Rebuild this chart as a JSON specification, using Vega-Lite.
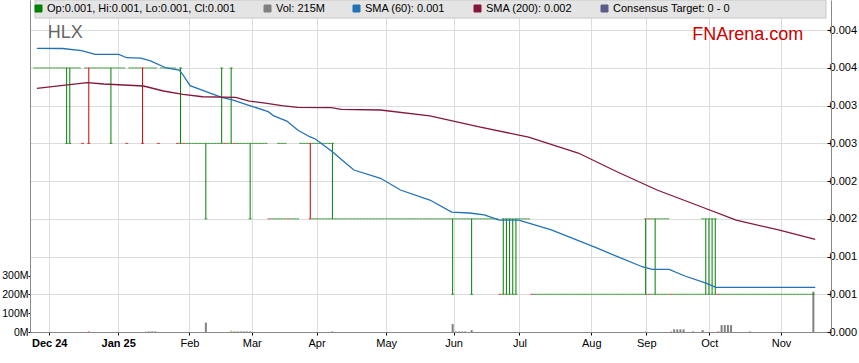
{
"$schema": "https://vega.github.io/schema/vega-lite/v6.json",
"width": 801, "height": 332,
"autosize": {"type": "none"},
"padding": {"left": 30, "top": 0, "right": 28, "bottom": 31},
"config": {
  "font": "Liberation Sans",
  "view": {"stroke": null},
  "axis": {"labelFont": "Liberation Sans", "labelFontSize": 11, "labelColor": "#000", "domainColor": "#888", "tickColor": "#000", "gridColor": "#dcdcdc", "gridWidth": 1, "title": null}
},
"datasets": {
"bars": [
{"i":0,"o":0.004,"h":0.004,"l":0.004,"c":0.004,"v":0},{"i":1,"o":0.004,"h":0.004,"l":0.004,"c":0.004,"v":0},{"i":2,"o":0.004,"h":0.004,"l":0.004,"c":0.004,"v":0},{"i":3,"o":0.004,"h":0.004,"l":0.004,"c":0.004,"v":0},{"i":4,"o":0.004,"h":0.004,"l":0.004,"c":0.004,"v":0},{"i":5,"o":0.004,"h":0.004,"l":0.004,"c":0.004,"v":0},{"i":6,"o":0.004,"h":0.004,"l":0.004,"c":0.004,"v":0},{"i":7,"o":0.004,"h":0.004,"l":0.004,"c":0.004,"v":0},{"i":8,"o":0.004,"h":0.004,"l":0.004,"c":0.004,"v":0},{"i":9,"o":0.004,"h":0.004,"l":0.004,"c":0.004,"v":0},
{"i":10,"o":0.003,"h":0.004,"l":0.003,"c":0.004,"v":0},{"i":11,"o":0.003,"h":0.004,"l":0.003,"c":0.004,"v":0},{"i":12,"o":0.004,"h":0.004,"l":0.004,"c":0.004,"v":0},{"i":13,"o":0.004,"h":0.004,"l":0.004,"c":0.004,"v":0},{"i":14,"o":0.004,"h":0.004,"l":0.004,"c":0.004,"v":0},{"i":15,"o":0.003,"h":0.003,"l":0.003,"c":0.003,"v":0},{"i":16,"o":0.004,"h":0.004,"l":0.004,"c":0.004,"v":0},{"i":17,"o":0.004,"h":0.004,"l":0.003,"c":0.003,"v":4},{"i":18,"o":0.004,"h":0.004,"l":0.004,"c":0.004,"v":0},{"i":19,"o":0.004,"h":0.004,"l":0.004,"c":0.004,"v":0},
{"i":20,"o":0.004,"h":0.004,"l":0.004,"c":0.004,"v":0},{"i":21,"o":0.004,"h":0.004,"l":0.004,"c":0.004,"v":0},{"i":22,"o":0.004,"h":0.004,"l":0.004,"c":0.004,"v":0},{"i":23,"o":0.004,"h":0.004,"l":0.004,"c":0.004,"v":0},{"i":24,"o":0.003,"h":0.004,"l":0.003,"c":0.004,"v":0},{"i":25,"o":0.004,"h":0.004,"l":0.004,"c":0.004,"v":0},{"i":26,"o":0.004,"h":0.004,"l":0.004,"c":0.004,"v":0},{"i":27,"o":0.004,"h":0.004,"l":0.004,"c":0.004,"v":0},{"i":28,"o":0.004,"h":0.004,"l":0.004,"c":0.004,"v":0},{"i":29,"o":0.003,"h":0.003,"l":0.003,"c":0.003,"v":0},
{"i":30,"o":0.004,"h":0.004,"l":0.004,"c":0.004,"v":0},{"i":31,"o":0.004,"h":0.004,"l":0.004,"c":0.004,"v":0},{"i":32,"o":0.004,"h":0.004,"l":0.004,"c":0.004,"v":0},{"i":33,"o":0.004,"h":0.004,"l":0.004,"c":0.004,"v":0},{"i":34,"o":0.004,"h":0.004,"l":0.003,"c":0.003,"v":0},{"i":35,"o":0.004,"h":0.004,"l":0.004,"c":0.004,"v":4},{"i":36,"o":0.004,"h":0.004,"l":0.004,"c":0.004,"v":3},{"i":37,"o":0.004,"h":0.004,"l":0.004,"c":0.004,"v":3},{"i":38,"o":0.004,"h":0.004,"l":0.004,"c":0.004,"v":3},{"i":39,"o":0.003,"h":0.003,"l":0.003,"c":0.003,"v":0},
{"i":40,"o":0.004,"h":0.004,"l":0.004,"c":0.004,"v":0},{"i":41,"o":0.004,"h":0.004,"l":0.004,"c":0.004,"v":0},{"i":42,"o":0.004,"h":0.004,"l":0.004,"c":0.004,"v":0},{"i":43,"o":0.004,"h":0.004,"l":0.004,"c":0.004,"v":0},{"i":44,"o":0.004,"h":0.004,"l":0.004,"c":0.004,"v":0},{"i":45,"o":0.003,"h":0.003,"l":0.003,"c":0.003,"v":0},{"i":46,"o":0.003,"h":0.004,"l":0.003,"c":0.004,"v":0},{"i":47,"o":0.003,"h":0.003,"l":0.003,"c":0.003,"v":0},{"i":48,"o":0.003,"h":0.003,"l":0.003,"c":0.003,"v":0},{"i":49,"o":0.003,"h":0.003,"l":0.003,"c":0.003,"v":0},
{"i":50,"o":0.003,"h":0.003,"l":0.003,"c":0.003,"v":0},{"i":51,"o":0.003,"h":0.003,"l":0.003,"c":0.003,"v":0},{"i":52,"o":0.003,"h":0.003,"l":0.003,"c":0.003,"v":0},{"i":53,"o":0.003,"h":0.003,"l":0.003,"c":0.003,"v":0},{"i":54,"o":0.002,"h":0.003,"l":0.002,"c":0.003,"v":50},{"i":55,"o":0.003,"h":0.003,"l":0.003,"c":0.003,"v":0},{"i":56,"o":0.003,"h":0.003,"l":0.003,"c":0.003,"v":0},{"i":57,"o":0.003,"h":0.003,"l":0.003,"c":0.003,"v":0},{"i":58,"o":0.003,"h":0.003,"l":0.003,"c":0.003,"v":0},{"i":59,"o":0.003,"h":0.004,"l":0.003,"c":0.004,"v":0},
{"i":60,"o":0.003,"h":0.003,"l":0.003,"c":0.003,"v":0},{"i":61,"o":0.003,"h":0.003,"l":0.003,"c":0.003,"v":0},{"i":62,"o":0.003,"h":0.004,"l":0.003,"c":0.004,"v":8},{"i":63,"o":0.003,"h":0.003,"l":0.003,"c":0.003,"v":4},{"i":64,"o":0.003,"h":0.003,"l":0.003,"c":0.003,"v":3},{"i":65,"o":0.003,"h":0.003,"l":0.003,"c":0.003,"v":3},{"i":66,"o":0.003,"h":0.003,"l":0.003,"c":0.003,"v":3},{"i":67,"o":0.003,"h":0.003,"l":0.003,"c":0.003,"v":3},{"i":68,"o":0.002,"h":0.003,"l":0.002,"c":0.003,"v":3},{"i":69,"o":0.003,"h":0.003,"l":0.003,"c":0.003,"v":0},
{"i":70,"o":0.003,"h":0.003,"l":0.003,"c":0.003,"v":0},{"i":71,"o":0.003,"h":0.003,"l":0.003,"c":0.003,"v":0},{"i":72,"o":0.003,"h":0.003,"l":0.003,"c":0.003,"v":0},{"i":73,"o":0.003,"h":0.003,"l":0.003,"c":0.003,"v":0},{"i":74,"o":0.002,"h":0.002,"l":0.002,"c":0.002,"v":0},{"i":75,"o":0.002,"h":0.002,"l":0.002,"c":0.002,"v":0},{"i":76,"o":0.002,"h":0.002,"l":0.002,"c":0.002,"v":0},{"i":77,"o":0.002,"h":0.003,"l":0.002,"c":0.002,"v":0},{"i":78,"o":0.002,"h":0.003,"l":0.002,"c":0.002,"v":0},{"i":79,"o":0.003,"h":0.003,"l":0.002,"c":0.003,"v":0},
{"i":80,"o":0.002,"h":0.002,"l":0.002,"c":0.002,"v":0},{"i":81,"o":0.002,"h":0.002,"l":0.002,"c":0.002,"v":0},{"i":82,"o":0.002,"h":0.002,"l":0.002,"c":0.002,"v":0},{"i":83,"o":0.002,"h":0.002,"l":0.002,"c":0.002,"v":0},{"i":84,"o":0.003,"h":0.003,"l":0.003,"c":0.003,"v":0},{"i":85,"o":0.003,"h":0.003,"l":0.003,"c":0.003,"v":0},{"i":86,"o":0.003,"h":0.003,"l":0.003,"c":0.003,"v":0},{"i":87,"o":0.003,"h":0.003,"l":0.002,"c":0.002,"v":0},{"i":88,"o":0.002,"h":0.003,"l":0.002,"c":0.002,"v":0},{"i":89,"o":0.002,"h":0.003,"l":0.002,"c":0.002,"v":0},
{"i":90,"o":0.002,"h":0.003,"l":0.002,"c":0.002,"v":0},{"i":91,"o":0.002,"h":0.003,"l":0.002,"c":0.002,"v":0},{"i":92,"o":0.002,"h":0.003,"l":0.002,"c":0.002,"v":0},{"i":93,"o":0.002,"h":0.003,"l":0.002,"c":0.002,"v":0},{"i":94,"o":0.003,"h":0.003,"l":0.002,"c":0.002,"v":3},{"i":95,"o":0.002,"h":0.002,"l":0.002,"c":0.002,"v":0},{"i":96,"o":0.002,"h":0.002,"l":0.002,"c":0.002,"v":0},{"i":97,"o":0.002,"h":0.002,"l":0.002,"c":0.002,"v":0},{"i":98,"o":0.002,"h":0.002,"l":0.002,"c":0.002,"v":0},{"i":99,"o":0.002,"h":0.002,"l":0.002,"c":0.002,"v":0},
{"i":100,"o":0.002,"h":0.002,"l":0.002,"c":0.002,"v":0},{"i":101,"o":0.002,"h":0.002,"l":0.002,"c":0.002,"v":0},{"i":102,"o":0.002,"h":0.002,"l":0.002,"c":0.002,"v":0},{"i":103,"o":0.002,"h":0.002,"l":0.002,"c":0.002,"v":0},{"i":104,"o":0.002,"h":0.002,"l":0.002,"c":0.002,"v":0},{"i":105,"o":0.002,"h":0.002,"l":0.002,"c":0.002,"v":0},{"i":106,"o":0.002,"h":0.002,"l":0.002,"c":0.002,"v":0},{"i":107,"o":0.002,"h":0.002,"l":0.002,"c":0.002,"v":0},{"i":108,"o":0.002,"h":0.002,"l":0.002,"c":0.002,"v":0},{"i":109,"o":0.002,"h":0.002,"l":0.002,"c":0.002,"v":0},
{"i":110,"o":0.002,"h":0.002,"l":0.002,"c":0.002,"v":0},{"i":111,"o":0.002,"h":0.002,"l":0.002,"c":0.002,"v":0},{"i":112,"o":0.002,"h":0.002,"l":0.002,"c":0.002,"v":0},{"i":113,"o":0.002,"h":0.002,"l":0.002,"c":0.002,"v":0},{"i":114,"o":0.002,"h":0.002,"l":0.002,"c":0.002,"v":0},{"i":115,"o":0.002,"h":0.002,"l":0.002,"c":0.002,"v":0},{"i":116,"o":0.002,"h":0.002,"l":0.002,"c":0.002,"v":0},{"i":117,"o":0.002,"h":0.002,"l":0.002,"c":0.002,"v":0},{"i":118,"o":0.002,"h":0.002,"l":0.002,"c":0.002,"v":0},{"i":119,"o":0.002,"h":0.002,"l":0.002,"c":0.002,"v":0},
{"i":120,"o":0.002,"h":0.002,"l":0.002,"c":0.002,"v":0},{"i":121,"o":0.002,"h":0.002,"l":0.002,"c":0.002,"v":0},{"i":122,"o":0.002,"h":0.002,"l":0.002,"c":0.002,"v":0},{"i":123,"o":0.002,"h":0.002,"l":0.002,"c":0.002,"v":0},{"i":124,"o":0.002,"h":0.002,"l":0.002,"c":0.002,"v":0},{"i":125,"o":0.002,"h":0.002,"l":0.002,"c":0.002,"v":0},{"i":126,"o":0.002,"h":0.002,"l":0.002,"c":0.002,"v":0},{"i":127,"o":0.002,"h":0.002,"l":0.002,"c":0.002,"v":0},{"i":128,"o":0.002,"h":0.002,"l":0.002,"c":0.002,"v":0},{"i":129,"o":0.002,"h":0.002,"l":0.002,"c":0.002,"v":0},
{"i":130,"o":0.002,"h":0.002,"l":0.002,"c":0.002,"v":0},{"i":131,"o":0.002,"h":0.002,"l":0.002,"c":0.002,"v":0},{"i":132,"o":0.001,"h":0.002,"l":0.001,"c":0.002,"v":43},{"i":133,"o":0.002,"h":0.002,"l":0.002,"c":0.002,"v":3},{"i":134,"o":0.002,"h":0.002,"l":0.002,"c":0.002,"v":3},{"i":135,"o":0.002,"h":0.002,"l":0.002,"c":0.002,"v":3},{"i":136,"o":0.002,"h":0.002,"l":0.002,"c":0.002,"v":3},{"i":137,"o":0.002,"h":0.002,"l":0.002,"c":0.002,"v":0},{"i":138,"o":0.001,"h":0.002,"l":0.001,"c":0.002,"v":10},{"i":139,"o":0.002,"h":0.002,"l":0.002,"c":0.002,"v":0},
{"i":140,"o":0.002,"h":0.002,"l":0.002,"c":0.002,"v":0},{"i":141,"o":0.002,"h":0.002,"l":0.002,"c":0.002,"v":0},{"i":142,"o":0.002,"h":0.002,"l":0.002,"c":0.002,"v":0},{"i":143,"o":0.002,"h":0.002,"l":0.002,"c":0.002,"v":0},{"i":144,"o":0.002,"h":0.002,"l":0.002,"c":0.002,"v":0},{"i":145,"o":0.002,"h":0.002,"l":0.002,"c":0.002,"v":0},{"i":146,"o":0.002,"h":0.002,"l":0.002,"c":0.002,"v":0},{"i":147,"o":0.001,"h":0.001,"l":0.001,"c":0.001,"v":0},{"i":148,"o":0.001,"h":0.002,"l":0.001,"c":0.002,"v":0},{"i":149,"o":0.001,"h":0.002,"l":0.001,"c":0.002,"v":0},
{"i":150,"o":0.001,"h":0.002,"l":0.001,"c":0.002,"v":0},{"i":151,"o":0.001,"h":0.002,"l":0.001,"c":0.002,"v":0},{"i":152,"o":0.001,"h":0.002,"l":0.001,"c":0.002,"v":0},{"i":153,"o":0.002,"h":0.002,"l":0.002,"c":0.002,"v":0},{"i":154,"o":0.002,"h":0.002,"l":0.002,"c":0.002,"v":0},{"i":155,"o":0.002,"h":0.002,"l":0.002,"c":0.002,"v":0},{"i":156,"o":0.002,"h":0.002,"l":0.002,"c":0.002,"v":0},{"i":157,"o":0.001,"h":0.001,"l":0.001,"c":0.001,"v":0},{"i":158,"o":0.001,"h":0.001,"l":0.001,"c":0.001,"v":0},{"i":159,"o":0.001,"h":0.001,"l":0.001,"c":0.001,"v":0},
{"i":160,"o":0.001,"h":0.001,"l":0.001,"c":0.001,"v":0},{"i":161,"o":0.001,"h":0.001,"l":0.001,"c":0.001,"v":0},{"i":162,"o":0.001,"h":0.001,"l":0.001,"c":0.001,"v":0},{"i":163,"o":0.001,"h":0.001,"l":0.001,"c":0.001,"v":0},{"i":164,"o":0.001,"h":0.001,"l":0.001,"c":0.001,"v":0},{"i":165,"o":0.001,"h":0.001,"l":0.001,"c":0.001,"v":0},{"i":166,"o":0.001,"h":0.001,"l":0.001,"c":0.001,"v":0},{"i":167,"o":0.001,"h":0.001,"l":0.001,"c":0.001,"v":0},{"i":168,"o":0.001,"h":0.001,"l":0.001,"c":0.001,"v":0},{"i":169,"o":0.001,"h":0.001,"l":0.001,"c":0.001,"v":0},
{"i":170,"o":0.001,"h":0.001,"l":0.001,"c":0.001,"v":0},{"i":171,"o":0.001,"h":0.001,"l":0.001,"c":0.001,"v":0},{"i":172,"o":0.001,"h":0.001,"l":0.001,"c":0.001,"v":0},{"i":173,"o":0.001,"h":0.001,"l":0.001,"c":0.001,"v":0},{"i":174,"o":0.001,"h":0.001,"l":0.001,"c":0.001,"v":0},{"i":175,"o":0.001,"h":0.001,"l":0.001,"c":0.001,"v":0},{"i":176,"o":0.001,"h":0.001,"l":0.001,"c":0.001,"v":0},{"i":177,"o":0.001,"h":0.001,"l":0.001,"c":0.001,"v":0},{"i":178,"o":0.001,"h":0.001,"l":0.001,"c":0.001,"v":0},{"i":179,"o":0.001,"h":0.001,"l":0.001,"c":0.001,"v":0},
{"i":180,"o":0.001,"h":0.001,"l":0.001,"c":0.001,"v":0},{"i":181,"o":0.001,"h":0.001,"l":0.001,"c":0.001,"v":0},{"i":182,"o":0.001,"h":0.001,"l":0.001,"c":0.001,"v":0},{"i":183,"o":0.001,"h":0.001,"l":0.001,"c":0.001,"v":0},{"i":184,"o":0.001,"h":0.001,"l":0.001,"c":0.001,"v":0},{"i":185,"o":0.001,"h":0.001,"l":0.001,"c":0.001,"v":0},{"i":186,"o":0.001,"h":0.001,"l":0.001,"c":0.001,"v":0},{"i":187,"o":0.001,"h":0.001,"l":0.001,"c":0.001,"v":0},{"i":188,"o":0.001,"h":0.001,"l":0.001,"c":0.001,"v":0},{"i":189,"o":0.001,"h":0.001,"l":0.001,"c":0.001,"v":0},
{"i":190,"o":0.001,"h":0.001,"l":0.001,"c":0.001,"v":0},{"i":191,"o":0.001,"h":0.001,"l":0.001,"c":0.001,"v":0},{"i":192,"o":0.001,"h":0.001,"l":0.001,"c":0.001,"v":0},{"i":193,"o":0.001,"h":0.002,"l":0.001,"c":0.002,"v":4},{"i":194,"o":0.001,"h":0.002,"l":0.001,"c":0.001,"v":0},{"i":195,"o":0.001,"h":0.002,"l":0.001,"c":0.001,"v":0},{"i":196,"o":0.002,"h":0.002,"l":0.001,"c":0.001,"v":0},{"i":197,"o":0.001,"h":0.002,"l":0.001,"c":0.001,"v":0},{"i":198,"o":0.001,"h":0.002,"l":0.001,"c":0.001,"v":0},{"i":199,"o":0.001,"h":0.002,"l":0.001,"c":0.001,"v":0},
{"i":200,"o":0.002,"h":0.002,"l":0.001,"c":0.002,"v":0},{"i":201,"o":0.001,"h":0.001,"l":0.001,"c":0.001,"v":3},{"i":202,"o":0.001,"h":0.001,"l":0.001,"c":0.001,"v":14},{"i":203,"o":0.001,"h":0.001,"l":0.001,"c":0.001,"v":14},{"i":204,"o":0.001,"h":0.001,"l":0.001,"c":0.001,"v":14},{"i":205,"o":0.001,"h":0.001,"l":0.001,"c":0.001,"v":14},{"i":206,"o":0.001,"h":0.001,"l":0.001,"c":0.001,"v":0},{"i":207,"o":0.001,"h":0.001,"l":0.001,"c":0.001,"v":0},{"i":208,"o":0.001,"h":0.001,"l":0.001,"c":0.001,"v":3},{"i":209,"o":0.001,"h":0.001,"l":0.001,"c":0.001,"v":0},
{"i":210,"o":0.001,"h":0.001,"l":0.001,"c":0.001,"v":0},{"i":211,"o":0.001,"h":0.002,"l":0.001,"c":0.001,"v":10},{"i":212,"o":0.001,"h":0.002,"l":0.001,"c":0.002,"v":0},{"i":213,"o":0.001,"h":0.002,"l":0.001,"c":0.002,"v":0},{"i":214,"o":0.001,"h":0.002,"l":0.001,"c":0.002,"v":0},{"i":215,"o":0.001,"h":0.002,"l":0.001,"c":0.002,"v":0},{"i":216,"o":0.001,"h":0.001,"l":0.001,"c":0.001,"v":4},{"i":217,"o":0.001,"h":0.001,"l":0.001,"c":0.001,"v":37},{"i":218,"o":0.001,"h":0.001,"l":0.001,"c":0.001,"v":37},{"i":219,"o":0.001,"h":0.001,"l":0.001,"c":0.001,"v":37},
{"i":220,"o":0.001,"h":0.001,"l":0.001,"c":0.001,"v":37},{"i":221,"o":0.001,"h":0.001,"l":0.001,"c":0.001,"v":0},{"i":222,"o":0.001,"h":0.001,"l":0.001,"c":0.001,"v":0},{"i":223,"o":0.001,"h":0.001,"l":0.001,"c":0.001,"v":0},{"i":224,"o":0.001,"h":0.001,"l":0.001,"c":0.001,"v":0},{"i":225,"o":0.001,"h":0.001,"l":0.001,"c":0.001,"v":0},{"i":226,"o":0.001,"h":0.001,"l":0.001,"c":0.001,"v":3},{"i":227,"o":0.001,"h":0.001,"l":0.001,"c":0.001,"v":0},{"i":228,"o":0.001,"h":0.001,"l":0.001,"c":0.001,"v":0},{"i":229,"o":0.001,"h":0.001,"l":0.001,"c":0.001,"v":0},
{"i":230,"o":0.001,"h":0.001,"l":0.001,"c":0.001,"v":0},{"i":231,"o":0.001,"h":0.001,"l":0.001,"c":0.001,"v":0},{"i":232,"o":0.001,"h":0.001,"l":0.001,"c":0.001,"v":0},{"i":233,"o":0.001,"h":0.001,"l":0.001,"c":0.001,"v":0},{"i":234,"o":0.001,"h":0.001,"l":0.001,"c":0.001,"v":0},{"i":235,"o":0.001,"h":0.001,"l":0.001,"c":0.001,"v":0},{"i":236,"o":0.001,"h":0.001,"l":0.001,"c":0.001,"v":0},{"i":237,"o":0.001,"h":0.001,"l":0.001,"c":0.001,"v":0},{"i":238,"o":0.001,"h":0.001,"l":0.001,"c":0.001,"v":0},{"i":239,"o":0.001,"h":0.001,"l":0.001,"c":0.001,"v":0},
{"i":240,"o":0.001,"h":0.001,"l":0.001,"c":0.001,"v":0},{"i":241,"o":0.001,"h":0.001,"l":0.001,"c":0.001,"v":0},{"i":242,"o":0.001,"h":0.001,"l":0.001,"c":0.001,"v":0},{"i":243,"o":0.001,"h":0.001,"l":0.001,"c":0.001,"v":0},{"i":244,"o":0.001,"h":0.001,"l":0.001,"c":0.001,"v":0},{"i":245,"o":0.001,"h":0.001,"l":0.001,"c":0.001,"v":0},{"i":246,"o":0.001,"h":0.001,"l":0.001,"c":0.001,"v":215}
],
"sma": [
{"i":0.6,"p":0.00426,"s":"SMA (60): 0.001"},{"i":8.7,"p":0.004257,"s":"SMA (60): 0.001"},{"i":14.7,"p":0.004228,"s":"SMA (60): 0.001"},{"i":19,"p":0.00418,"s":"SMA (60): 0.001"},{"i":26.5,"p":0.00418,"s":"SMA (60): 0.001"},{"i":29,"p":0.004135,"s":"SMA (60): 0.001"},{"i":33.4,"p":0.004131,"s":"SMA (60): 0.001"},{"i":36.5,"p":0.004092,"s":"SMA (60): 0.001"},{"i":41.5,"p":0.003999,"s":"SMA (60): 0.001"},{"i":45.6,"p":0.003972,"s":"SMA (60): 0.001"},{"i":46.8,"p":0.003906,"s":"SMA (60): 0.001"},{"i":49,"p":0.003764,"s":"SMA (60): 0.001"},{"i":59,"p":0.003611,"s":"SMA (60): 0.001"},{"i":62.4,"p":0.003575,"s":"SMA (60): 0.001"},{"i":68.3,"p":0.003495,"s":"SMA (60): 0.001"},{"i":73.7,"p":0.00342,"s":"SMA (60): 0.001"},{"i":75.5,"p":0.003363,"s":"SMA (60): 0.001"},{"i":79.6,"p":0.003296,"s":"SMA (60): 0.001"},{"i":83,"p":0.003177,"s":"SMA (60): 0.001"},{"i":86.8,"p":0.003088,"s":"SMA (60): 0.001"},{"i":88.6,"p":0.003058,"s":"SMA (60): 0.001"},{"i":94,"p":0.00289,"s":"SMA (60): 0.001"},{"i":97.4,"p":0.002766,"s":"SMA (60): 0.001"},{"i":100.8,"p":0.002647,"s":"SMA (60): 0.001"},{"i":109.2,"p":0.002537,"s":"SMA (60): 0.001"},{"i":115.5,"p":0.002382,"s":"SMA (60): 0.001"},{"i":124.8,"p":0.002249,"s":"SMA (60): 0.001"},{"i":131.7,"p":0.00209,"s":"SMA (60): 0.001"},{"i":137.3,"p":0.002077,"s":"SMA (60): 0.001"},{"i":142,"p":0.002051,"s":"SMA (60): 0.001"},{"i":146.7,"p":0.001984,"s":"SMA (60): 0.001"},{"i":152.9,"p":0.001984,"s":"SMA (60): 0.001"},{"i":163.2,"p":0.001852,"s":"SMA (60): 0.001"},{"i":177.9,"p":0.001609,"s":"SMA (60): 0.001"},{"i":184.1,"p":0.001498,"s":"SMA (60): 0.001"},{"i":191.9,"p":0.001365,"s":"SMA (60): 0.001"},{"i":195.1,"p":0.001331,"s":"SMA (60): 0.001"},{"i":200.4,"p":0.001331,"s":"SMA (60): 0.001"},{"i":205.4,"p":0.001242,"s":"SMA (60): 0.001"},{"i":212.3,"p":0.001145,"s":"SMA (60): 0.001"},{"i":215.1,"p":0.001092,"s":"SMA (60): 0.001"},{"i":246.6,"p":0.001092,"s":"SMA (60): 0.001"},
{"i":0.6,"p":0.00373,"s":"SMA (200): 0.002"},{"i":16.5,"p":0.003804,"s":"SMA (200): 0.002"},{"i":21.8,"p":0.003787,"s":"SMA (200): 0.002"},{"i":34.3,"p":0.00376,"s":"SMA (200): 0.002"},{"i":40.6,"p":0.003694,"s":"SMA (200): 0.002"},{"i":46.8,"p":0.00365,"s":"SMA (200): 0.002"},{"i":53,"p":0.003618,"s":"SMA (200): 0.002"},{"i":63.4,"p":0.00361,"s":"SMA (200): 0.002"},{"i":67.7,"p":0.003561,"s":"SMA (200): 0.002"},{"i":73.3,"p":0.003531,"s":"SMA (200): 0.002"},{"i":78,"p":0.003499,"s":"SMA (200): 0.002"},{"i":83,"p":0.003478,"s":"SMA (200): 0.002"},{"i":93.6,"p":0.003473,"s":"SMA (200): 0.002"},{"i":96.8,"p":0.003451,"s":"SMA (200): 0.002"},{"i":109.2,"p":0.003442,"s":"SMA (200): 0.002"},{"i":124.8,"p":0.003363,"s":"SMA (200): 0.002"},{"i":140.4,"p":0.003217,"s":"SMA (200): 0.002"},{"i":156,"p":0.003084,"s":"SMA (200): 0.002"},{"i":171.7,"p":0.002872,"s":"SMA (200): 0.002"},{"i":184.1,"p":0.00262,"s":"SMA (200): 0.002"},{"i":196.6,"p":0.002382,"s":"SMA (200): 0.002"},{"i":209.1,"p":0.002183,"s":"SMA (200): 0.002"},{"i":221.6,"p":0.001984,"s":"SMA (200): 0.002"},{"i":235,"p":0.001852,"s":"SMA (200): 0.002"},{"i":246.6,"p":0.001729,"s":"SMA (200): 0.002"}
]
},
"layer": [
{
  "data": {"name": "bars"},
  "transform": [{"window": [{"op": "lag", "field": "c", "as": "pc"}], "sort": [{"field": "i"}]}],
  "mark": {"type": "bar", "width": 2},
  "encoding": {
    "x": {"field": "i", "type": "quantitative", "scale": {"domain": [0, 250], "nice": false, "zero": false},
      "axis": {"values": [4.5, 26.3, 48.8, 68.5, 89, 111, 132.3, 153.1, 175.8, 193.2, 213.1, 235.8],
        "labelExpr": "['Dec 24','Jan 25','Feb','Mar','Apr','May','Jun','Jul','Aug','Sep','Oct','Nov'][indexof([4.5,26.3,48.8,68.5,89,111,132.3,153.1,175.8,193.2,213.1,235.8], datum.value)]",
        "labelFontWeight": {"condition": {"test": "datum.value < 30", "value": "bold"}, "value": "normal"},
        "grid": true, "tickSize": 3, "labelPadding": 2, "labelFontSize": 11}},
    "y": {"field": "v", "type": "quantitative", "scale": {"domain": [0, 1769], "nice": false},
      "axis": {"orient": "left", "values": [0, 100, 200, 300], "labelExpr": "datum.value + 'M'", "grid": false, "tickSize": 2, "labelPadding": 0, "labelFontSize": 10.5}},
    "color": {"condition": [{"test": "datum.c > datum.pc", "value": "#90ee90"}, {"test": "datum.c < datum.pc", "value": "#f08080"}], "value": "#808080"}
  }
},
{
  "layer": [
    {
      "data": {"values": [{"a": 0, "b": 250}]},
      "mark": {"type": "rect", "color": "#e4e4e4", "stroke": "#c8c8c8", "strokeWidth": 1},
      "encoding": {
        "x": {"field": "a", "type": "quantitative", "scale": {"domain": [0, 250], "nice": false, "zero": false}},
        "x2": {"field": "b"},
        "y": {"datum": 0.00466, "type": "quantitative", "scale": {"domain": [0.0005, 0.0049], "nice": false, "zero": false}},
        "y2": {"datum": 0.0049}
      }
    },
    {
      "data": {"name": "bars"},
      "transform": [{"window": [{"op": "lag", "field": "c", "as": "pc"}], "sort": [{"field": "i"}]}, {"filter": "datum.o != datum.c"}],
      "mark": {"type": "rule", "strokeWidth": 1},
      "encoding": {
        "x": {"field": "i", "type": "quantitative", "scale": {"domain": [0, 250], "nice": false, "zero": false}},
        "y": {"field": "o", "type": "quantitative", "scale": {"domain": [0.0005, 0.0049], "nice": false, "zero": false}},
        "y2": {"field": "c"},
        "color": {"condition": {"test": "datum.c < datum.pc", "value": "#cc0000"}, "value": "#008000"}
      }
    },
    {
      "data": {"name": "bars"},
      "transform": [{"window": [{"op": "lag", "field": "c", "as": "pc"}], "sort": [{"field": "i"}]}],
      "mark": {"type": "tick", "orient": "horizontal", "size": 3, "thickness": 1},
      "encoding": {
        "x": {"field": "i", "type": "quantitative", "scale": {"domain": [0, 250], "nice": false, "zero": false}},
        "y": {"field": "h", "type": "quantitative", "scale": {"domain": [0.0005, 0.0049], "nice": false, "zero": false},
          "axis": {"orient": "right", "values": [0.0005, 0.001, 0.0015, 0.002, 0.0025, 0.003, 0.0035, 0.004, 0.0045],
            "labelExpr": "format(floor(datum.value * 1000 + 0.000001) / 1000, '.3f')", "grid": true, "tickSize": -4, "labelPadding": 2}},
        "color": {"condition": {"test": "datum.c < datum.pc", "value": "#cc0000"}, "value": "#008000"}
      }
    },
    {
      "data": {"name": "bars"},
      "transform": [{"window": [{"op": "lag", "field": "c", "as": "pc"}], "sort": [{"field": "i"}]}, {"filter": "datum.h != datum.l"}],
      "mark": {"type": "tick", "orient": "horizontal", "size": 3, "thickness": 1},
      "encoding": {
        "x": {"field": "i", "type": "quantitative", "scale": {"domain": [0, 250], "nice": false, "zero": false}},
        "y": {"field": "l", "type": "quantitative", "scale": {"domain": [0.0005, 0.0049], "nice": false, "zero": false}},
        "color": {"condition": {"test": "datum.c < datum.pc", "value": "#cc0000"}, "value": "#008000"}
      }
    },
    {
      "data": {"name": "sma"},
      "mark": {"type": "line", "strokeWidth": 1.3},
      "encoding": {
        "x": {"field": "i", "type": "quantitative", "scale": {"domain": [0, 250], "nice": false, "zero": false}},
        "y": {"field": "p", "type": "quantitative", "scale": {"domain": [0.0005, 0.0049], "nice": false, "zero": false}},
        "color": {"field": "s", "type": "nominal",
          "scale": {"domain": ["Op:0.001, Hi:0.001, Lo:0.001, Cl:0.001", "Vol: 215M", "SMA (60): 0.001", "SMA (200): 0.002", "Consensus Target: 0 - 0"],
                    "range": ["#008000", "#808080", "#2272b6", "#85173a", "#5c5c8a"]},
          "legend": {"orient": "none", "legendX": 3, "legendY": 3, "direction": "horizontal", "columns": 5, "title": null,
            "symbolType": "square", "symbolSize": 49, "symbolStrokeWidth": 1, "labelFontSize": 11, "labelFont": "Liberation Sans", "labelColor": "#000",
            "labelOffset": 3, "columnPadding": 26, "padding": 0, "labelLimit": 400,
            "encode": {"symbols": {"update": {"fill": {"scale": "color", "field": "value"}, "stroke": {"value": "#333"}, "opacity": {"value": 1}, "fillOpacity": {"value": 1}}}}}},
        "detail": {"field": "s"}
      }
    },
    {
      "data": {"values": [{"t": "HLX"}]},
      "mark": {"type": "text", "fontSize": 18, "color": "#666", "align": "left", "baseline": "alphabetic"},
      "encoding": {
        "x": {"datum": 4, "type": "quantitative", "scale": {"domain": [0, 250], "nice": false, "zero": false}},
        "y": {"datum": 0.00439, "type": "quantitative", "scale": {"domain": [0.0005, 0.0049], "nice": false, "zero": false}},
        "text": {"field": "t"}
      }
    },
    {
      "data": {"values": [{"t": "FNArena.com"}]},
      "mark": {"type": "text", "fontSize": 18, "color": "#cc0000", "align": "right", "baseline": "alphabetic"},
      "encoding": {
        "x": {"datum": 242.8, "type": "quantitative", "scale": {"domain": [0, 250], "nice": false, "zero": false}},
        "y": {"datum": 0.00437, "type": "quantitative", "scale": {"domain": [0.0005, 0.0049], "nice": false, "zero": false}},
        "text": {"field": "t"}
      }
    }
  ]
}
],
"resolve": {"scale": {"y": "independent"}, "axis": {"y": "independent"}}
}
